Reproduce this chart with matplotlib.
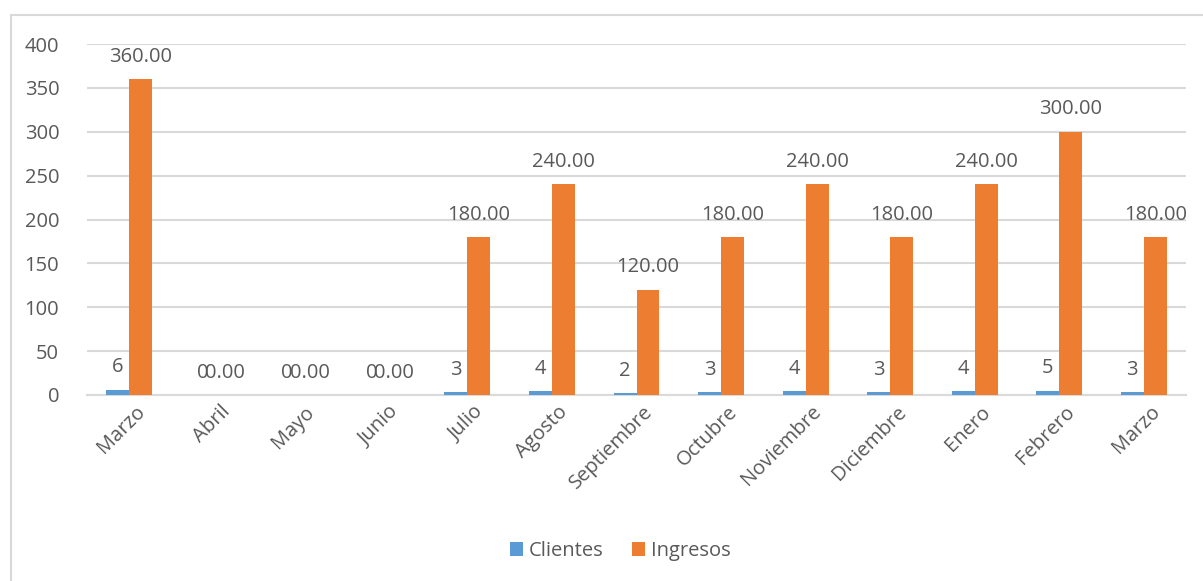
import numpy as np
import matplotlib.pyplot as plt
from matplotlib.patches import Rectangle
from matplotlib.transforms import ScaledTranslation

months = ["Marzo", "Abril", "Mayo", "Junio", "Julio", "Agosto", "Septiembre",
          "Octubre", "Noviembre", "Diciembre", "Enero", "Febrero", "Marzo"]
clientes = [6, 0, 0, 0, 3, 4, 2, 3, 4, 3, 4, 5, 3]
ingresos = [360, 0, 0, 0, 180, 240, 120, 180, 240, 180, 240, 300, 180]
yticks = [0, 50, 100, 150, 200, 250, 300, 350, 400]

plt.rcParams['font.family'] = ['Open Sans', 'DejaVu Sans']
text_color = '#595959'
grid_color = '#d9d9d9'
blue = '#5B9BD5'
orange = '#ED7D31'
fs = 14.5

fig = plt.figure(figsize=(12.03, 5.81), dpi=100)
ax = fig.add_axes([87 / 1203, 1 - 395 / 581, (1186 - 87) / 1203, (395 - 44) / 581])

# chart border (cut off at right and bottom like the screenshot)
fig.patches.append(Rectangle((11 / 1203, -0.1), 1.2, 1 - 15 / 581 + 0.1,
                             transform=fig.transFigure, fill=False,
                             edgecolor=grid_color, linewidth=1.5))

x = np.arange(len(months))
w = 0.272
b1 = ax.bar(x - w / 2, clientes, w, color=blue, label='Clientes', zorder=3)
b2 = ax.bar(x + w / 2, ingresos, w, color=orange, label='Ingresos', zorder=3)

ax.bar_label(b1, labels=[str(v) for v in clientes], padding=9,
             fontsize=fs, color=text_color)
ax.bar_label(b2, labels=['%.2f' % v for v in ingresos], padding=9,
             fontsize=fs, color=text_color)

ax.set_xlim(-0.5, len(months) - 0.5)
ax.set_ylim(0, 400)
ax.set_yticks(yticks)
ax.set_xticks(x)
ax.set_xticklabels(months, rotation=45, ha='right', rotation_mode='anchor')
ax.tick_params(axis='both', length=0, labelsize=fs, labelcolor=text_color)
ax.tick_params(axis='y', pad=20)
ax.tick_params(axis='x', pad=5)
shift = ScaledTranslation(6 / 100, 0, fig.dpi_scale_trans)
for lbl in ax.get_xticklabels():
    lbl.set_transform(lbl.get_transform() + shift)
ax.grid(axis='y', color=grid_color, linewidth=1.5, zorder=0)
for s in ['top', 'right', 'left']:
    ax.spines[s].set_visible(False)
ax.spines['bottom'].set_color(grid_color)
ax.spines['bottom'].set_linewidth(1.5)

fig.legend(loc='center', bbox_to_anchor=(620 / 1203, 1 - 551 / 581), ncol=2,
           frameon=False, fontsize=fs, labelcolor=text_color,
           handlelength=0.65, handleheight=0.65, handletextpad=0.3,
           columnspacing=1.4)

fig.savefig('out.png', dpi=100)
